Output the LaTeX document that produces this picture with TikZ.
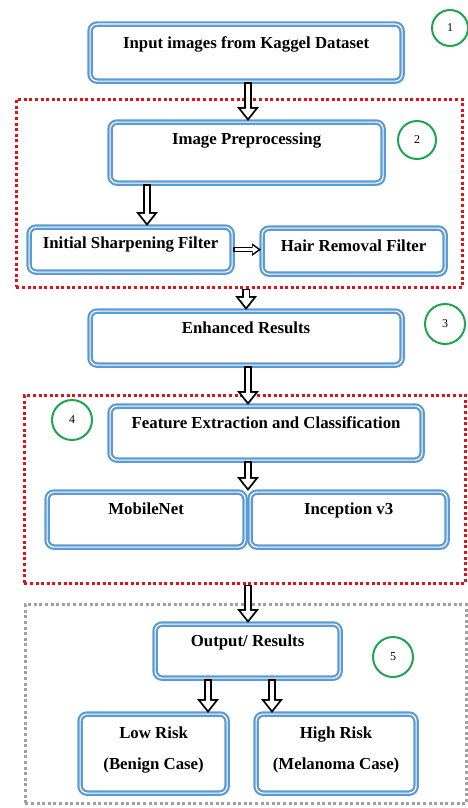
\documentclass[tikz,border=0pt]{standalone}
\usepackage{fontspec}
\setmainfont{Liberation Serif}
\usepackage{tikz}
\usetikzlibrary{arrows.meta}
\definecolor{boxblue}{RGB}{91,155,213}
\definecolor{framered}{RGB}{222,18,24}
\definecolor{framegrey}{RGB}{160,160,160}
\definecolor{numgreen}{RGB}{30,165,80}

\begin{document}
\begin{tikzpicture}[x=1pt, y=-1pt,
    box/.style = {draw=boxblue, line width=2.2pt, double=white, double distance=1.2pt, rounded corners=7pt,
                  anchor=north west, inner sep=0pt, text height=22pt, font=\fontsize{16.8}{20}\selectfont\bfseries},
    num/.style = {draw=numgreen, circle, line width=2pt, minimum size=38pt, inner sep=0pt, font=\fontsize{12}{14}\selectfont},
    redframe/.style = {draw=framered, line width=2.6pt, dash pattern=on 3pt off 2.6pt, anchor=north west, inner sep=0pt},
    greyframe/.style = {redframe, draw=framegrey},
    hollow/.style = {line width=8.5pt, -{Triangle[length=14pt, width=21pt]},
                     postaction={draw=white, line width=4.9pt, shorten <=1.8pt, shorten >=3pt, -{Triangle[length=9.2pt, width=13.8pt]}}},
    hollowsmall/.style = {line width=5.6pt, -{Triangle[length=9pt, width=12pt]},
                     postaction={draw=white, line width=2.4pt, shorten <=1.6pt, shorten >=2.7pt, -{Triangle[length=5.7pt, width=7.6pt]}}}]
            \useasboundingbox (0,0) rectangle (467,808);

            \node[redframe, minimum width=446pt, minimum height=188pt] (F2) at (15,98) {};
            \node[redframe, minimum width=441pt, minimum height=188pt] (F4) at (23,394) {};
            \node[greyframe, minimum width=441pt, minimum height=199pt] (F5) at (24,603) {};

            \node[box, minimum width=312pt, text height=24pt, text depth=33pt] (B1) at (89,23) {Input images from Kaggel Dataset};
            \node[box, minimum width=273pt, text depth=39pt] (B2) at (109,121) {Image Preprocessing};
            \node[box, minimum width=203pt, text height=21pt, text depth=24pt] (B3) at (28,226) {Initial Sharpening Filter};
            \node[box, minimum width=183pt, text height=23pt, text depth=23pt] (B4) at (261,227) {Hair Removal Filter};
            \node[box, minimum width=312pt, text depth=32pt] (B5) at (89,310) {Enhanced Results};
            \node[box, minimum width=312pt, text depth=32pt] (B6) at (109,405) {Feature Extraction and Classification};
            \node[box, minimum width=198pt, text depth=33pt] (B7) at (46,491) {MobileNet};
            \node[box, minimum width=197pt, text depth=33pt] (B8) at (249,491) {Inception v3};
            \node[box, minimum width=185pt, text depth=32pt] (B9) at (154,623) {Output/ Results};
            \node[box, minimum width=147pt, align=center, text height=55pt, text depth=24pt] (B10) at (79,713) {Low Risk\\[11pt](Benign Case)};
            \node[box, minimum width=160pt, align=center, text height=55pt, text depth=24pt] (B11) at (255,713) {High Risk\\[11pt](Melanoma Case)};

            \node[num, minimum size=36pt] (N1) at (450,28) {1};
            \node[num] (N2) at (417,140) {2};
            \node[num, minimum size=40pt] (N3) at (445,324) {3};
            \node[num, minimum size=40pt] (N4) at (72,420) {4};
            \node[num, minimum size=40pt] (N5) at (393,657) {5};

            \coordinate (mid) at (248,0);
            \coordinate (left) at (147,0);
            \coordinate (low) at (208,0);
            \coordinate (high) at (272,0);

            \draw[hollow] (B1.south -| mid) -- (B2.north -| mid);
            \draw[hollow] (B2.south -| left) -- (B3.north -| left);
            \draw[hollowsmall] (B3.east) -- (B3.east -| B4.west);
            \draw[hollow] (F2.south -| B5.north) -- (B5.north);
            \draw[hollow] (B5.south -| mid) -- (B6.north -| mid);
            \draw[hollow] (B6.south -| mid) -- (B7.north -| mid);
            \draw[hollow] (F4.south -| mid) -- (B9.north -| mid);
            \draw[hollow] (B9.south -| low) -- (B10.north -| low);
            \draw[hollow] (B9.south -| high) -- (B11.north -| high);
        \end{tikzpicture}
\end{document}
